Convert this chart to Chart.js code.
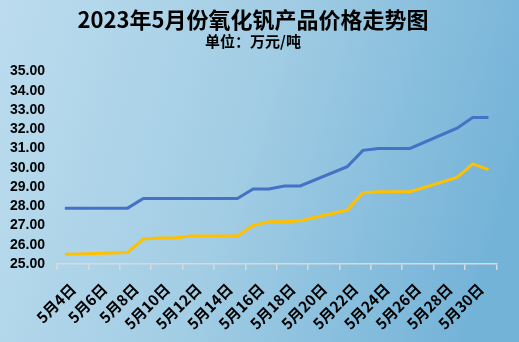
<!DOCTYPE html>
<html>
<head>
<meta charset="utf-8">
<script src="https://cdn.jsdelivr.net/npm/chart.js@4/dist/chart.umd.min.js"></script>
<style>
  html, body { margin: 0; padding: 0; background: #ffffff; }
  #wrap { width: 519px; height: 342px; position: relative; }
</style>
</head>
<body>
<div id="wrap"><canvas id="c" width="519" height="342"></canvas></div>
<script>
// ---- data ----
const titleText = '2023年5月份氧化钒产品价格走势图';
const subtitleText = '单位：万元/吨';
const days = [4, 5, 8, 9, 10, 11, 12, 15, 16, 17, 18, 19, 22, 23, 24, 25, 26, 29, 30, 31];
const seriesBlue = [27.9, 27.9, 27.9, 28.4, 28.4, 28.4, 28.4, 28.4, 28.9, 28.9, 29.05, 29.05, 30.05, 30.9, 31.0, 31.0, 31.0, 32.05, 32.6, 32.6];
const seriesYellow = [25.5, 25.52, 25.6, 26.3, 26.35, 26.35, 26.45, 26.45, 27.0, 27.2, 27.2, 27.25, 27.8, 28.7, 28.75, 28.75, 28.75, 29.5, 30.2, 29.9];
const tickDays = [4, 6, 8, 10, 12, 14, 16, 18, 20, 22, 24, 26, 28, 30];
const tickLabels = ['5月4日', '5月6日', '5月8日', '5月10日', '5月12日', '5月14日', '5月16日', '5月18日', '5月20日', '5月22日', '5月24日', '5月26日', '5月28日', '5月30日'];
const yMin = 25, yMax = 35, yStep = 1;

const toPoints = (vals) => days.map((d, i) => ({ x: d, y: vals[i] }));

const bgPlugin = {
  id: 'bg',
  beforeDraw(chart) {
    const { ctx, width, height } = chart;
    const g = ctx.createLinearGradient(0, 0, width, height * 0.45);
    g.addColorStop(0, '#bcdcee');
    g.addColorStop(0.5, '#a2cde4');
    g.addColorStop(1, '#74b3d8');
    ctx.save();
    ctx.fillStyle = g;
    ctx.fillRect(0, 0, width, height);
    ctx.restore();
  }
};

new Chart(document.getElementById('c'), {
  type: 'line',
  data: {
    datasets: [
      { label: '系列1', data: toPoints(seriesBlue), borderColor: '#4472c4', borderWidth: 3, pointRadius: 0, tension: 0, fill: false },
      { label: '系列2', data: toPoints(seriesYellow), borderColor: '#ffc000', borderWidth: 3, pointRadius: 0, tension: 0, fill: false }
    ]
  },
  options: {
    responsive: false,
    animation: false,
    layout: { padding: { left: 0, right: 13, top: 0, bottom: 0 } },
    plugins: {
      legend: { display: false },
      tooltip: { enabled: false },
      title: {
        display: true,
        text: titleText,
        color: '#000000',
        font: { family: '"Noto Sans CJK SC", "Liberation Sans", sans-serif', size: 22, weight: 'bold' },
        padding: { top: 6, bottom: 0 }
      },
      subtitle: {
        display: true,
        text: subtitleText,
        color: '#000000',
        font: { family: '"Noto Sans CJK SC", "Liberation Sans", sans-serif', size: 15, weight: 'bold' },
        padding: { top: 0, bottom: 21 }
      }
    },
    scales: {
      x: {
        type: 'linear',
        min: tickDays[0] - 0.5,
        max: days[days.length - 1] + 0.5,
        afterBuildTicks(scale) {
          const t = tickDays.map(d => ({ value: d - 0.5 }));
          t.push({ value: days[days.length - 1] + 0.5 });
          scale.ticks = t;
        },
        afterFit(scale) { scale.height = 78; },
        grid: { display: true, drawOnChartArea: false, drawTicks: true, tickLength: 6, color: '#d9d9d9', lineWidth: 1.5 },
        border: { display: true, color: '#d9d9d9', width: 1.5 },
        ticks: {
          autoSkip: false,
          minRotation: 45,
          maxRotation: 45,
          padding: 10,
          labelOffset: 16,
          color: '#000000',
          font: { family: '"Noto Sans CJK SC", "Liberation Sans", sans-serif', size: 15, weight: 'bold' },
          callback(value, index) { return index < tickLabels.length ? tickLabels[index] : ''; }
        }
      },
      y: {
        min: yMin,
        max: yMax,
        afterFit(scale) { scale.width = 57; },
        grid: { display: false, drawTicks: false },
        border: { display: false },
        ticks: {
          stepSize: yStep,
          autoSkip: false,
          padding: 12,
          color: '#000000',
          font: { family: '"Liberation Sans", Arial, sans-serif', size: 14, weight: 'bold' },
          callback(v) { return Number(v).toFixed(2); }
        }
      }
    }
  },
  plugins: [bgPlugin]
});
</script>
</body>
</html>
